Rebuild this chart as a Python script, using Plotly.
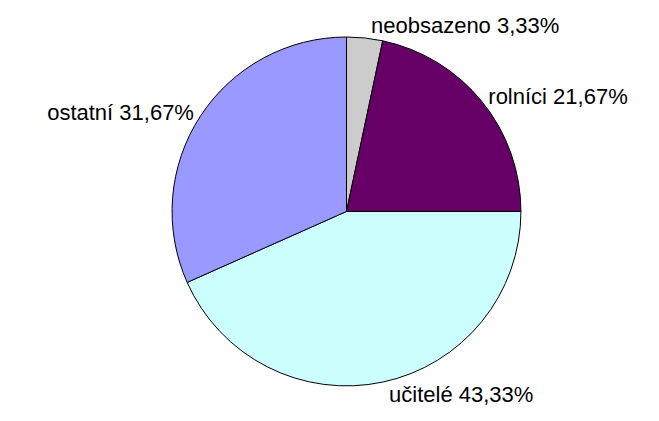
import plotly.graph_objects as go

labels = ["neobsazeno", "rolníci", "učitelé", "ostatní"]
values = [3.33, 21.67, 43.33, 31.67]
colors = ["#CCCCCC", "#660066", "#CCFFFF", "#9999FF"]

fig = go.Figure(go.Pie(
    labels=labels,
    values=values,
    sort=False,
    direction="clockwise",
    rotation=0,
    marker=dict(colors=colors, line=dict(color="#000000", width=1)),
    textposition="outside",
    texttemplate="%{label} %{value:.2f}%",
    textfont=dict(family="Liberation Sans, Arial, sans-serif", size=22, color="#000000"),
    showlegend=False,
    hoverinfo="label+percent",
    domain=dict(x=[0.01, 0.99], y=[0.11, 1.0]),
))

fig.update_layout(
    width=659, height=421,
    margin=dict(l=0, r=0, t=0, b=0),
    paper_bgcolor="white",
    separators=", ",
)

fig.write_html("out.html")
